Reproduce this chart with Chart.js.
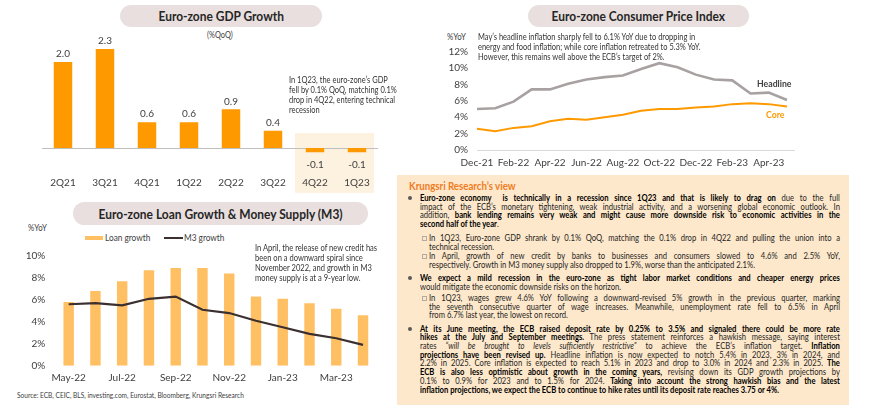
<!DOCTYPE html>
<html>
<head>
<meta charset="utf-8">
<script src="https://cdn.jsdelivr.net/npm/chart.js@4"></script>
<style>
  html,body{margin:0;padding:0;background:#fff;}
  #page{position:relative;width:870px;height:416px;overflow:hidden;background:#fff;font-family:Lato,"Open Sans",sans-serif;color:#262626;}
  canvas{position:absolute;}
  .pill{position:absolute;background:#e8dfde;border-radius:12px;display:flex;align-items:center;justify-content:center;}
  .pill span{display:inline-block;font-weight:bold;font-size:13px;color:#262626;transform:scaleX(0.92);white-space:nowrap;}
  .t{position:absolute;white-space:nowrap;transform-origin:0 0;transform:scaleX(0.87);}
  .par{position:absolute;transform-origin:0 0;transform:scaleX(0.85);font-size:9px;line-height:8.8px;color:#1f1f1f;}
  .par b{color:#000;}
  .j{text-align:justify;text-align-last:justify;white-space:normal;}
  .l{text-align:left;white-space:nowrap;}
  .dot{position:absolute;width:4px;height:4px;border-radius:50%;background:#595959;}
  .sq{position:absolute;width:3px;height:3px;border:1px solid #b3aaa0;}
</style>
</head>
<body>
<div id="page">
  <!-- GDP -->
  <div class="pill" style="left:120px;top:5px;width:202px;height:22px;"><span>Euro-zone GDP Growth</span></div>
  <div class="t" style="left:207px;top:30px;font-size:8.5px;line-height:10px;color:#404040;">(%QoQ)</div>
  <canvas id="gdp" width="392" height="170" style="left:0;top:30px;"></canvas>
  <div style="position:absolute;left:289px;top:75px;width:111px;height:42px;overflow:hidden;">
    <div class="t" style="left:0;top:0;font-size:8.6px;line-height:10px;color:#333;">In 1Q23, the euro-zone’s GDP<br>fell by 0.1% QoQ, matching 0.1%<br>drop in 4Q22, entering technical<br>recession</div>
  </div>

  <!-- Loan -->
  <div class="pill" style="left:73px;top:202px;width:295px;height:23px;"><span>Euro-zone Loan Growth &amp; Money Supply (M3)</span></div>
  <div class="t" style="left:28px;top:223px;font-size:9px;line-height:10px;color:#404040;">%YoY</div>
  <div style="position:absolute;left:85px;top:236px;width:18px;height:4px;background:#ffc064;"></div>
  <div class="t" style="left:105px;top:233px;font-size:9.5px;line-height:10px;color:#404040;">Loan growth</div>
  <div style="position:absolute;left:164px;top:237px;width:19px;height:2px;background:#3b2f2f;"></div>
  <div class="t" style="left:184px;top:233px;font-size:9.5px;line-height:10px;color:#404040;">M3 growth</div>
  <canvas id="loan" width="392" height="150" style="left:0;top:240px;"></canvas>
  <div class="t" style="left:255px;top:243px;font-size:8.7px;line-height:9.9px;color:#333;">In April, the release of new credit has<br>been on a downward spiral since<br>November 2022, and growth in M3<br>money supply is at a 9-year low.</div>
  <div class="t" style="left:17px;top:390px;font-size:8px;line-height:10px;color:#404040;transform:scaleX(0.82);">Source: ECB, CEIC, BLS, investing.com, Eurostat, Bloomberg, Krungsri Research</div>

  <!-- CPI -->
  <div class="pill" style="left:528px;top:5px;width:221px;height:22px;"><span>Euro-zone Consumer Price Index</span></div>
  <div class="t" style="left:447px;top:31.5px;font-size:9px;line-height:10px;color:#404040;">%YoY</div>
  <canvas id="cpi" width="470" height="152" style="left:400px;top:28px;"></canvas>
  <div class="t" style="left:478px;top:31.5px;font-size:8.6px;line-height:10.3px;color:#333;">May’s headline inflation sharply fell to 6.1% YoY due to dropping in<br>energy and food inflation; while core inflation retreated to 5.3% YoY.<br>However, this remains well above the ECB’s target of 2%.</div>
  <div class="t" style="left:757px;top:77px;font-size:10px;line-height:12px;font-weight:bold;color:#404040;">Headline</div>
  <div class="t" style="left:766px;top:108px;font-size:10px;line-height:12px;font-weight:bold;color:#ff9900;">Core</div>

  <!-- Text panel -->
  <div style="position:absolute;left:397px;top:175px;width:452px;height:230px;background:#fde8cb;"></div>
  <div class="t" style="left:409px;top:178.5px;font-size:11px;line-height:13px;font-weight:bold;color:#f07c1e;transform:scaleX(0.88);">Krungsri Research’s view</div>

  <div class="dot" style="left:408px;top:196.3px;"></div>
  <div class="par" style="left:420px;top:193.9px;width:494px;">
    <div class="j"><b>Euro-zone economy&nbsp; is technically in a recession since 1Q23 and that is likely to drag on</b> due to the full</div>
    <div class="j">impact of the ECB’s monetary tightening, weak industrial activity, and a worsening global economic outlook. In</div>
    <div class="j">addition, <b>bank lending remains very weak and might cause more downside risk to economic activities in the</b></div>
    <div class="l"><b>second half of the year</b>.</div>
  </div>

  <div class="sq" style="left:422px;top:236.3px;"></div>
  <div class="par" style="left:429px;top:233.9px;width:483.5px;">
    <div class="j">In 1Q23, Euro-zone GDP shrank by 0.1% QoQ, matching the 0.1% drop in 4Q22 and pulling the union into a</div>
    <div class="l">technical recession.</div>
  </div>

  <div class="sq" style="left:422px;top:254.3px;"></div>
  <div class="par" style="left:429px;top:251.9px;width:483.5px;">
    <div class="j">In April, growth of new credit by banks to businesses and consumers slowed to 4.6% and 2.5% YoY,</div>
    <div class="l">respectively. Growth in M3 money supply also dropped to 1.9%, worse than the anticipated 2.1%.</div>
  </div>

  <div class="dot" style="left:408px;top:276.3px;"></div>
  <div class="par" style="left:420px;top:273.9px;width:494px;">
    <div class="j"><b>We expect a mild recession in the euro-zone as tight labor market conditions and cheaper energy prices</b></div>
    <div class="l">would mitigate the economic downside risks on the horizon.</div>
  </div>

  <div class="sq" style="left:422px;top:296.3px;"></div>
  <div class="par" style="left:429px;top:293.9px;width:483.5px;">
    <div class="j">In 1Q23, wages grew 4.6% YoY following a downward-revised 5% growth in the previous quarter, marking</div>
    <div class="j">the seventh consecutive quarter of wage increases. Meanwhile, unemployment rate fell to 6.5% in April</div>
    <div class="l">from 6.7% last year, the lowest on record.</div>
  </div>

  <div class="dot" style="left:408px;top:327px;"></div>
  <div class="par" style="left:420px;top:324.6px;width:494px;line-height:8.7px;">
    <div class="j"><b>At its June meeting, the ECB raised deposit rate by 0.25% to 3.5% and signaled there could be more rate</b></div>
    <div class="j"><b>hikes at the July and September meetings.</b> The press statement reinforces a hawkish message, saying interest</div>
    <div class="j">rates <i>“will be brought to levels sufficiently restrictive”</i> to achieve the ECB’s inflation target. <b>Inflation</b></div>
    <div class="j"><b>projections have been revised up.</b> Headline inflation is now expected to notch 5.4% in 2023, 3% in 2024, and</div>
    <div class="j">2.2% in 2025. Core inflation is expected to reach 5.1% in 2023 and drop to 3.0% in 2024 and 2.3% in 2025. <b>The</b></div>
    <div class="j"><b>ECB is also less optimistic about growth in the coming years,</b> revising down its GDP growth projections by</div>
    <div class="j">0.1% to 0.9% for 2023 and to 1.5% for 2024. <b>Taking into account the strong hawkish bias and the latest</b></div>
    <div class="l"><b>inflation projections, we expect the ECB to continue to hike rates until its deposit rate reaches 3.75 or 4%.</b></div>
  </div>
</div>

<script>
// ---------------- DATA ----------------
const gdpQuarters = ['2Q21','3Q21','4Q21','1Q22','2Q22','3Q22','4Q22','1Q23'];
const gdpGrowth   = [2.0, 2.3, 0.6, 0.6, 0.9, 0.4, -0.1, -0.1];
const gdpLabels   = ['2.0','2.3','0.6','0.6','0.9','0.4','-0.1','-0.1'];

const loanMonths = ['May-22','Jun-22','Jul-22','Aug-22','Sep-22','Oct-22','Nov-22','Dec-22','Jan-23','Feb-23','Mar-23','Apr-23'];
const loanGrowth = [5.8, 6.8, 7.7, 8.7, 8.9, 8.9, 8.4, 6.3, 6.1, 5.7, 5.2, 4.6];
const m3Growth   = [5.6, 5.7, 5.5, 6.1, 6.3, 5.1, 4.8, 4.1, 3.5, 2.9, 2.5, 1.9];

const cpiMonths   = ['Dec-21','Jan-22','Feb-22','Mar-22','Apr-22','May-22','Jun-22','Jul-22','Aug-22','Sep-22','Oct-22','Nov-22','Dec-22','Jan-23','Feb-23','Mar-23','Apr-23','May-23'];
const headlineCPI = [5.0, 5.1, 5.9, 7.4, 7.4, 8.1, 8.6, 8.9, 9.1, 9.9, 10.6, 10.1, 9.2, 8.6, 8.5, 6.9, 7.0, 6.1];
const coreCPI     = [2.6, 2.3, 2.7, 2.9, 3.5, 3.8, 3.7, 4.0, 4.3, 4.8, 5.0, 5.0, 5.2, 5.3, 5.6, 5.7, 5.6, 5.3];

const loanYTicks = ['0%','2%','4%','6%','8%','10%'];
const cpiYTicks  = ['0%','2%','4%','6%','8%','10%','12%'];

// ---------------- CHARTS ----------------
Chart.defaults.font.family = 'Lato, "Open Sans", sans-serif';
Chart.defaults.color = '#404040';
Chart.defaults.animation = false;

const gdpPlugin = {
  id: 'gdpDeco',
  beforeDraw(chart) {
    const {ctx, chartArea, scales} = chart;
    const x = scales.x, y = scales.y;
    ctx.save();
    // highlight box for recession quarters
    const left = x.getPixelForValue(6) - 20;
    const right = x.getPixelForValue(7) + 17;
    const top = y.getPixelForValue(0.35);
    const bottom = chartArea.bottom + 19;
    ctx.fillStyle = '#fdf1df';
    ctx.fillRect(left, top, right - left, bottom - top);
    // zero line
    const y0 = Math.round(y.getPixelForValue(0)) + 0.5;
    ctx.strokeStyle = '#bfbfbf';
    ctx.lineWidth = 1;
    ctx.beginPath();
    ctx.moveTo(chartArea.left, y0);
    ctx.lineTo(chartArea.right, y0);
    ctx.stroke();
    ctx.restore();
  },
  afterDatasetsDraw(chart) {
    const {ctx} = chart;
    const meta = chart.getDatasetMeta(0);
    ctx.save();
    ctx.fillStyle = '#404040';
    ctx.font = '10px Lato, "Open Sans", sans-serif';
    ctx.textAlign = 'center';
    ctx.textBaseline = 'middle';
    meta.data.forEach((bar, i) => {
      const v = gdpGrowth[i];
      const yy = v >= 0 ? bar.y - 8 : bar.y + 12;
      ctx.fillText(gdpLabels[i], bar.x, yy);
    });
    ctx.restore();
  }
};

new Chart(document.getElementById('gdp'), {
  type: 'bar',
  data: {
    labels: gdpQuarters,
    datasets: [{ data: gdpGrowth, backgroundColor: '#ff9900', barPercentage: 0.44, categoryPercentage: 1 }]
  },
  options: {
    responsive: false,
    layout: { padding: { left: 42, right: 14, top: 6.2, bottom: 0 } },
    plugins: { legend: { display: false }, tooltip: { enabled: false } },
    scales: {
      x: {
        grid: { display: false, drawTicks: false },
        border: { display: false },
        ticks: { color: '#404040', font: { size: 10 }, padding: 3, maxRotation: 0, autoSkip: false },
        afterFit(s) { s.height = 26.2; }
      },
      y: { display: false, min: -0.6, max: 2.6 }
    }
  },
  plugins: [gdpPlugin]
});

new Chart(document.getElementById('loan'), {
  type: 'bar',
  data: {
    labels: loanMonths,
    datasets: [
      { type: 'line', label: 'M3 growth', data: m3Growth, borderColor: '#3b2f2f', borderWidth: 2.2, pointRadius: 0, tension: 0, fill: false, order: 0 },
      { type: 'bar', label: 'Loan growth', data: loanGrowth, backgroundColor: '#ffc064', barPercentage: 0.39, categoryPercentage: 1, order: 1 }
    ]
  },
  options: {
    responsive: false,
    layout: { padding: { left: 0, right: 15.6, top: 6.7, bottom: 0 } },
    plugins: { legend: { display: false }, tooltip: { enabled: false } },
    scales: {
      x: {
        grid: { display: false, drawTicks: false },
        border: { display: false },
        ticks: {
          color: '#404040', font: { size: 10 }, padding: 6, maxRotation: 0, autoSkip: false,
          callback: (v, i) => (i % 2 === 0 ? loanMonths[i] : '')
        },
        afterFit(s) { s.height = 24.3; }
      },
      y: {
        min: 0, max: 10,
        grid: { display: false, drawTicks: false },
        border: { display: false },
        ticks: { stepSize: 2, color: '#404040', font: { size: 10 }, padding: 10, callback: (v) => loanYTicks[v / 2] },
        afterFit(s) { s.width = 55.3; }
      }
    }
  }
});

const cpiAxisPlugin = {
  id: 'cpiAxis',
  beforeDatasetsDraw(chart) {
    const {ctx, chartArea, scales} = chart;
    const y0 = Math.round(scales.y.getPixelForValue(0)) + 0.5;
    ctx.save();
    ctx.strokeStyle = '#d9d9d9';
    ctx.lineWidth = 1;
    ctx.beginPath();
    ctx.moveTo(chartArea.left, y0);
    ctx.lineTo(chartArea.right + 8, y0);
    ctx.stroke();
    ctx.restore();
  }
};

new Chart(document.getElementById('cpi'), {
  type: 'line',
  data: {
    labels: cpiMonths,
    datasets: [
      { label: 'Headline', data: headlineCPI, borderColor: '#a8a1a1', borderWidth: 2.6, pointRadius: 0, tension: 0 },
      { label: 'Core', data: coreCPI, borderColor: '#ff9900', borderWidth: 2, pointRadius: 0, tension: 0 }
    ]
  },
  options: {
    responsive: false,
    layout: { padding: { left: 0, right: 83, top: 23.7, bottom: 0 } },
    plugins: { legend: { display: false }, tooltip: { enabled: false } },
    scales: {
      x: {
        offset: false,
        grid: { display: false, drawTicks: false },
        border: { display: false },
        ticks: {
          color: '#404040', font: { size: 10 }, padding: 7, maxRotation: 0, autoSkip: false,
          callback: (v, i) => (i % 2 === 0 ? cpiMonths[i] : '')
        },
        afterFit(s) { s.height = 30; }
      },
      y: {
        min: 0, max: 12,
        grid: { display: false, drawTicks: false },
        border: { display: false },
        ticks: { stepSize: 2, color: '#404040', font: { size: 10 }, padding: 9, callback: (v) => cpiYTicks[v / 2] },
        afterFit(s) { s.width = 77; }
      }
    }
  },
  plugins: [cpiAxisPlugin]
});
</script>
</body>
</html>
